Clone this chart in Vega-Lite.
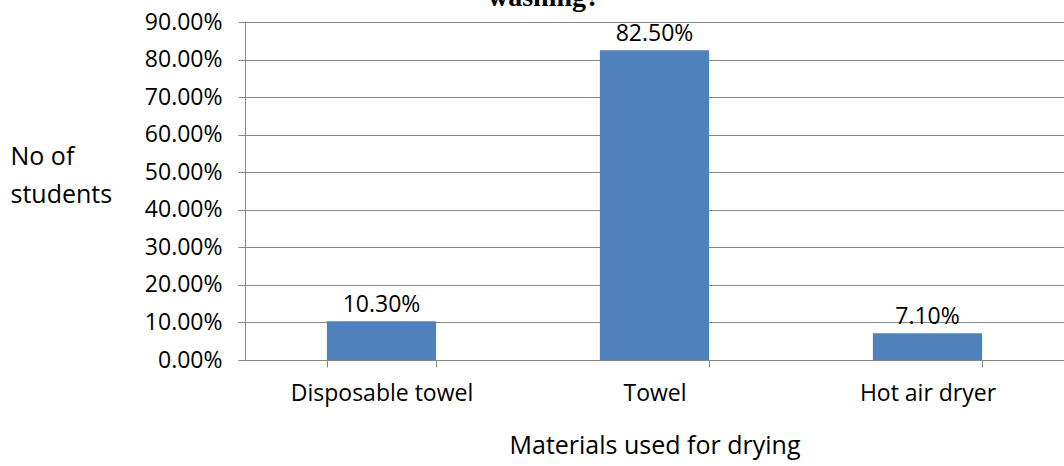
{
  "$schema": "https://vega.github.io/schema/vega-lite/v6.json",
  "width": 819,
  "height": 338,
  "autosize": "none",
  "padding": {"left": 245, "top": 22, "right": 0, "bottom": 106},
  "background": "white",
  "title": {
    "text": "washing?",
    "font": "Liberation Serif",
    "fontSize": 28,
    "fontWeight": "bold",
    "color": "#000000",
    "anchor": "start",
    "frame": "group",
    "dx": 243,
    "offset": -23,
    "baseline": "alphabetic"
  },
  "data": {
    "values": [
      {"material": "Disposable towel", "pct": 0.103},
      {"material": "Towel", "pct": 0.825},
      {"material": "Hot air dryer", "pct": 0.071}
    ]
  },
  "config": {
    "view": {"stroke": null},
    "font": "Open Sans"
  },
  "encoding": {
    "x": {
      "field": "material",
      "type": "nominal",
      "sort": null,
      "scale": {"paddingInner": 0.6, "paddingOuter": 0.3},
      "axis": {
        "title": "Materials used for drying",
        "titleFont": "Open Sans",
        "titleFontSize": 25,
        "titleFontWeight": "normal",
        "titleColor": "#000000",
        "titleY": 93,
        "titleBaseline": "alphabetic",
        "labelAngle": 0,
        "labelFont": "Open Sans",
        "labelFontSize": 23,
        "labelColor": "#000000",
        "labelPadding": 15,
        "labelLimit": 0,
        "tickBand": "extent",
        "tickSize": 7,
        "tickColor": "#868686",
        "domainColor": "#868686",
        "grid": false
      }
    },
    "y": {
      "field": "pct",
      "type": "quantitative",
      "scale": {"domain": [0, 0.9]},
      "axis": {
        "title": ["No of", "students"],
        "titleAngle": 0,
        "titleAlign": "left",
        "titleBaseline": "middle",
        "titleX": -235,
        "titleY": 134,
        "titleLineHeight": 38,
        "titleFont": "Open Sans",
        "titleFontSize": 25,
        "titleFontWeight": "normal",
        "titleColor": "#000000",
        "values": [0, 0.1, 0.2, 0.3, 0.4, 0.5, 0.6, 0.7, 0.8, 0.9],
        "format": ".2%",
        "labelFont": "Open Sans",
        "labelFontSize": 23,
        "labelColor": "#000000",
        "labelPadding": 16,
        "tickSize": 7,
        "tickColor": "#868686",
        "domainColor": "#868686",
        "gridColor": "#868686",
        "gridWidth": 1
      }
    }
  },
  "layer": [
    {"mark": {"type": "bar", "color": "#4F81BD"}},
    {
      "mark": {"type": "text", "dy": -4, "baseline": "bottom", "fontSize": 23, "font": "Open Sans", "color": "#000000"},
      "encoding": {"text": {"field": "pct", "type": "quantitative", "format": ".2%"}}
    }
  ]
}
